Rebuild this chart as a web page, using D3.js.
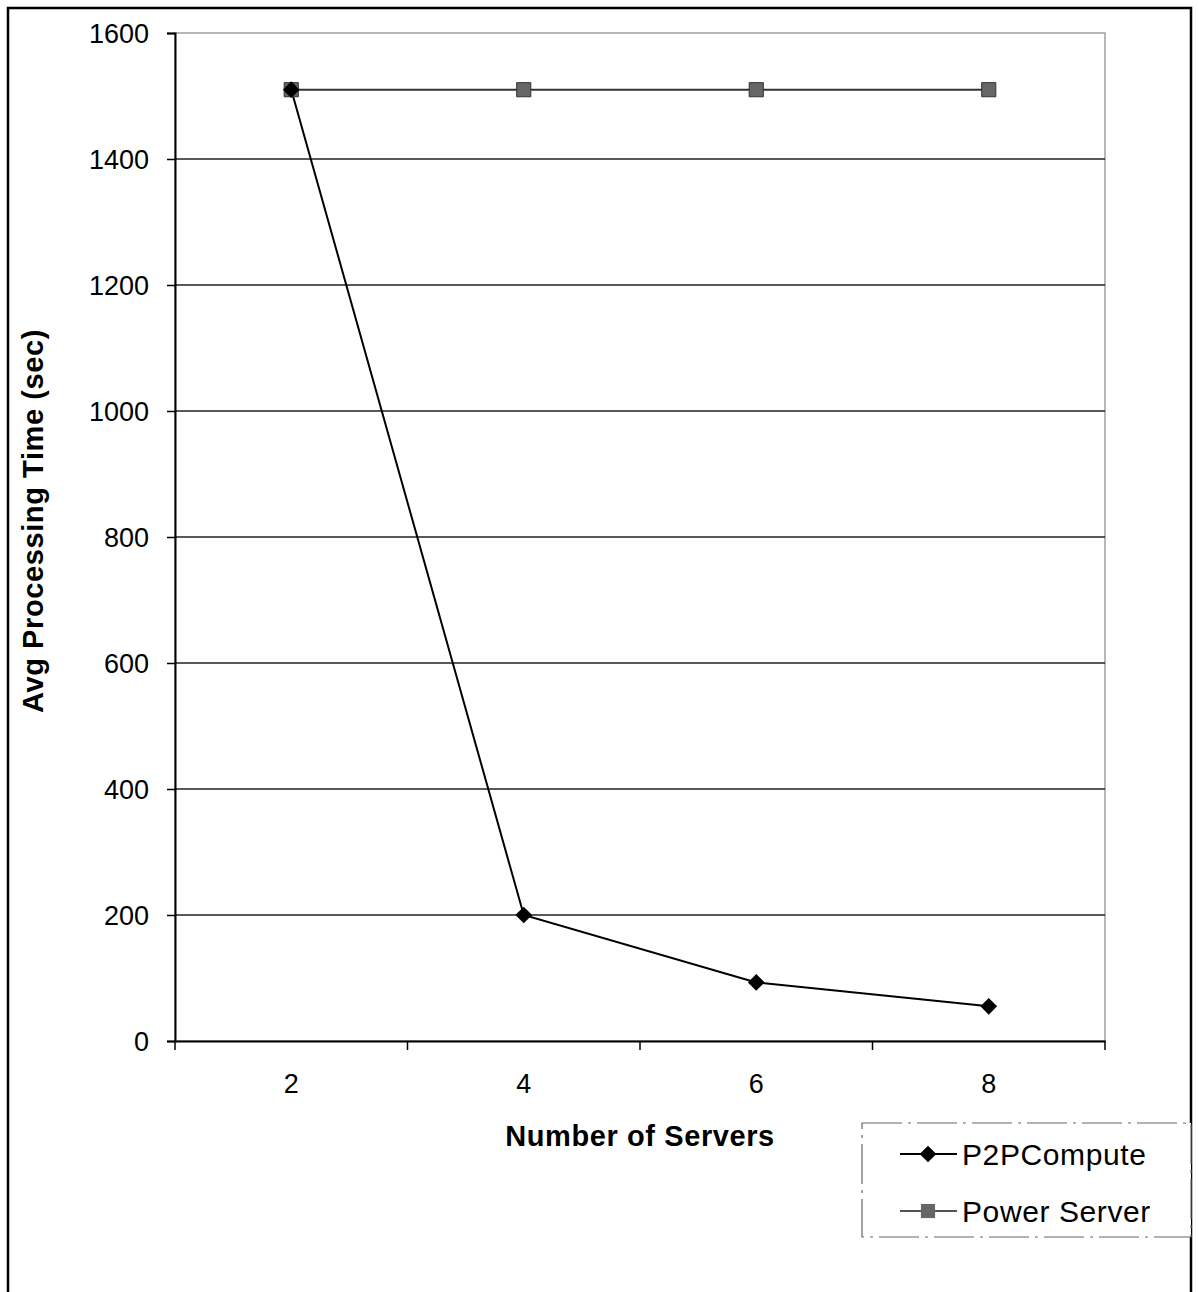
<!DOCTYPE html>
<html>
<head>
<meta charset="utf-8">
<script src="https://cdnjs.cloudflare.com/ajax/libs/d3/7.8.5/d3.min.js"></script>
<style>
  body { margin: 0; background: #fff; }
  text { font-family: "Liberation Sans", Arial, sans-serif; fill: #000; }
</style>
</head>
<body>
<div id="canvas"></div>
<script>
const servers = ["2", "4", "6", "8"];
const p2pCompute = [1510, 200, 93, 55];
const powerServer = [1510, 1510, 1510, 1510];
const yTicks = [0, 200, 400, 600, 800, 1000, 1200, 1400, 1600];
const seriesNames = ["P2PCompute", "Power Server"];

const width = 1199;
const height = 1292;
const margin = { top: 33, left: 175, bottom: 251, right: 94 };
const iwidth = width - margin.left - margin.right;
const iheight = height - margin.top - margin.bottom;

const svg = d3.select("#canvas").append("svg")
    .attr("width", width)
    .attr("height", height);

// outer chart border
svg.append("rect")
    .attr("x", 8).attr("y", 8)
    .attr("width", 1183).attr("height", 1300)
    .attr("fill", "none").attr("stroke", "#000").attr("stroke-width", 2.5);

const g = svg.append("g").attr("transform", `translate(${margin.left},${margin.top})`);

const x = d3.scaleBand().domain(servers).range([0, iwidth]).padding(0);
const y = d3.scaleLinear().domain([0, 1600]).range([iheight, 0]);
const cx = d => x(d) + x.bandwidth() / 2;

// plot area border
g.append("rect")
    .attr("width", iwidth).attr("height", iheight)
    .attr("fill", "none").attr("stroke", "#888").attr("stroke-width", 1.2);

// gridlines
g.append("g")
  .selectAll("line")
  .data(yTicks.filter(t => t > 0 && t < 1600))
  .enter().append("line")
    .attr("x1", 0).attr("x2", iwidth)
    .attr("y1", d => y(d)).attr("y2", d => y(d))
    .attr("stroke", "#222").attr("stroke-width", 1.3);

// y axis
const yAxis = g.append("g")
    .call(d3.axisLeft(y).tickValues(yTicks).tickSize(8).tickPadding(18).tickFormat(d3.format("d")));
yAxis.select(".domain").attr("stroke", "#000").attr("stroke-width", 2);
yAxis.selectAll(".tick line").attr("stroke", "#000").attr("stroke-width", 1.5);
yAxis.selectAll("text").style("font-size", "27px").attr("dy", "0.36em");

// x axis
const xAxis = g.append("g")
    .attr("transform", `translate(0,${iheight})`)
    .call(d3.axisBottom(x).tickSize(0).tickPadding(33));
xAxis.select(".domain").attr("stroke", "#000").attr("stroke-width", 2);
xAxis.selectAll("text").style("font-size", "27px");
xAxis.selectAll(".bound")
  .data(d3.range(servers.length + 1))
  .enter().append("line")
    .attr("class", "bound")
    .attr("x1", i => i * x.bandwidth()).attr("x2", i => i * x.bandwidth())
    .attr("y1", 0).attr("y2", 9)
    .attr("stroke", "#000").attr("stroke-width", 1.5);

// axis titles
svg.append("text")
    .attr("transform", "translate(43,521) rotate(-90)")
    .attr("text-anchor", "middle")
    .style("font-size", "29px").style("font-weight", "bold")
    .style("letter-spacing", "0.6px")
    .text("Avg Processing Time (sec)");

svg.append("text")
    .attr("x", 640).attr("y", 1146)
    .attr("text-anchor", "middle")
    .style("font-size", "29px").style("font-weight", "bold")
    .style("letter-spacing", "0.6px")
    .text("Number of Servers");

// lines
const line = d3.line().x((d, i) => cx(servers[i])).y(d => y(d));

g.append("path").datum(powerServer)
    .attr("d", line).attr("fill", "none")
    .attr("stroke", "#333").attr("stroke-width", 2);

g.append("path").datum(p2pCompute)
    .attr("d", line).attr("fill", "none")
    .attr("stroke", "#000").attr("stroke-width", 2);

const sq = d3.symbol().type(d3.symbolSquare).size(200);
const dia = d3.symbol().type(d3.symbolSquare).size(140);

g.selectAll(".ps")
  .data(powerServer)
  .enter().append("path")
    .attr("class", "ps")
    .attr("d", sq)
    .attr("transform", (d, i) => `translate(${cx(servers[i])},${y(d)})`)
    .attr("fill", "#666").attr("stroke", "#333").attr("stroke-width", 1);

g.selectAll(".p2p")
  .data(p2pCompute)
  .enter().append("path")
    .attr("class", "p2p")
    .attr("d", dia)
    .attr("transform", (d, i) => `translate(${cx(servers[i])},${y(d)}) rotate(45)`)
    .attr("fill", "#000");

// legend
const lg = svg.append("g").attr("transform", "translate(862,1123)");
lg.append("rect")
    .attr("width", 329).attr("height", 114)
    .attr("fill", "#fff").attr("stroke", "#666").attr("stroke-width", 1.2)
    .attr("stroke-dasharray", "40,6,3,6");

const items = lg.selectAll(".item")
  .data(seriesNames)
  .enter().append("g")
    .attr("transform", (d, i) => `translate(0,${31 + i * 57})`);

items.append("line")
    .attr("x1", 38).attr("x2", 95)
    .attr("stroke", (d, i) => i === 0 ? "#000" : "#555")
    .attr("stroke-width", 2);

items.append("path")
    .attr("d", (d, i) => i === 0 ? dia() : sq())
    .attr("transform", (d, i) => i === 0 ? "translate(66,0) rotate(45)" : "translate(66,0)")
    .attr("fill", (d, i) => i === 0 ? "#000" : "#666");

items.append("text")
    .attr("x", 100).attr("dy", "0.36em")
    .style("font-size", "30px")
    .style("letter-spacing", "0.6px")
    .text(d => d);
</script>
</body>
</html>
